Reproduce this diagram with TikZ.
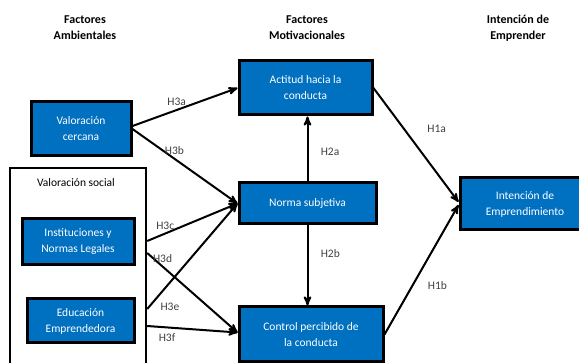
\documentclass[tikz,border=0pt]{standalone}
\usepackage{fontspec}
\setmainfont{Carlito}
\usepackage{tikz}
\usetikzlibrary{arrows}
\definecolor{boxblue}{HTML}{0070C0}
\definecolor{labelgray}{HTML}{404040}

\begin{document}
\begin{tikzpicture}[x=1pt, y=-1pt, ->, >=stealth', line width=2pt,
    box/.style={draw, fill=boxblue, text=white, line width=3pt, align=center, inner sep=0pt, font=\fontsize{11.5}{16}\selectfont},
    head/.style={align=center, font=\bfseries\fontsize{12}{16}\selectfont},
    hyp/.style={text=labelgray, font=\fontsize{11.5}{13}\selectfont}]
				\path[use as bounding box, clip] (0,0) rectangle (579,363);

				% column titles
				\node[head] (tamb) at (85,28)  {Factores\\Ambientales};
				\node[head] (tmot) at (307,28) {Factores\\Motivacionales};
				\node[head] (tint) at (518,28) {Intención de\\Emprender};

				% environmental factors
				\node[box, minimum width=100pt, minimum height=54pt] (VC) at (81,129) {Valoración\\cercana};
				\node[draw, line width=2.4pt, minimum width=136pt, minimum height=212pt] (VS) at (78,274) {};
				\node[font=\fontsize{11.5}{13}\selectfont] (VSt) at (76,183) {Valoración social};
				\node[box, minimum width=112pt, minimum height=46pt] (INS) at (78,242) {Instituciones y\\Normas Legales};
				\node[box, minimum width=107pt, minimum height=44pt] (EDU) at (80.5,321) {Educación\\Emprendedora};

				% motivational factors
				\node[box, minimum width=133pt, minimum height=54pt] (ACT) at (305.5,88) {Actitud hacia la\\conducta};
				\node[box, minimum width=137pt, minimum height=41pt] (NS)  at (307.5,203.5) {Norma subjetiva};
				\node[box, minimum width=144pt, minimum height=55pt] (CPC) at (311,334.5) {Control percibido de\\la conducta};

				% intention
				\node[box, minimum width=130pt, minimum height=52pt] (IE) at (525,204) {Intención de\\Emprendimiento};

				\path	([yshift=3pt]VC.east) edge node[hyp, pos=.42, above] {H3a} (ACT.west)
						(VC.east) edge node[hyp, pos=.40, above] {H3b} (NS.west)
						([yshift=1pt]VS.east |- INS.east) edge node[hyp, pos=.2, above] {H3c} (NS.west)
						([yshift=-11pt]VS.east |- INS.east) edge node[hyp, pos=.17, above] {H3d} ([yshift=2pt]CPC.west)
						([yshift=12pt]VS.east |- EDU.east) edge node[hyp, pos=.1, below right] {H3e} (NS.west)
						([yshift=-5pt]VS.east |- EDU.east) edge node[hyp, pos=.22, below=2pt] {H3f} ([yshift=2pt]CPC.west)
						(NS.north) edge node[hyp, pos=.45, right=9pt] {H2a} (NS.north |- ACT.south)
						(NS.south) edge node[hyp, pos=.35, right=9pt] {H2b} (NS.south |- CPC.north)
						(ACT.east) edge node[hyp, pos=.36, right=19pt] {H1a} ([yshift=2pt]IE.west)
						(CPC.east) edge node[hyp, pos=.38, right=11pt] {H1b} ([yshift=-1pt]IE.west);

			\end{tikzpicture}
\end{document}
